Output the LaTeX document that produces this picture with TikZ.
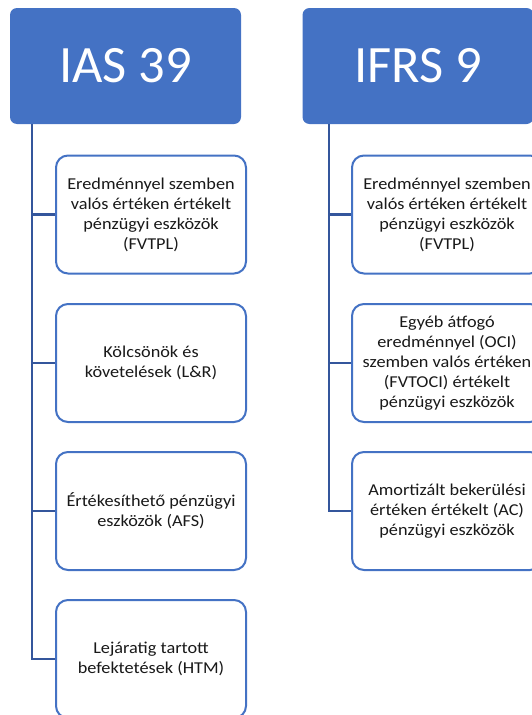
\documentclass[tikz,border=0pt]{standalone}
\usepackage{fontspec}
\setmainfont{Carlito}
\newfontfamily\bodyfont[FakeStretch=1.1]{Carlito}
\definecolor{accent}{RGB}{68,114,196}
\definecolor{linkblue}{RGB}{52,86,156}
\begin{document}
\begin{tikzpicture}[x=1pt,y=-1pt,
  header/.style={fill=accent, draw=none, rounded corners=7pt, minimum width=231pt,
    minimum height=116pt, inner sep=0pt, text=white, font=\fontsize{52.5}{60}\selectfont},
  item/.style={fill=white, draw=accent, line width=2pt, rounded corners=12pt,
    minimum width=190pt, minimum height=118pt, inner sep=0pt, align=center,
    text=black!90, font=\bodyfont\fontsize{16.6}{20}\selectfont},
  conn/.style={draw=linkblue, line width=2.6pt}]
\useasboundingbox (0,0) rectangle (532,715);
\clip (0,0) rectangle (532,715);

% spine positions
\coordinate (s1) at (32,0);
\coordinate (s2) at (329,0);

% headers
\node[header] (h1) at (125.5,66) {IAS 39};
\node[header] (h2) at (418,66) {IFRS 9};

% IAS 39 categories
\node[item] (a1) at (151,214.5) {Eredménnyel szemben\\valós értéken értékelt\\pénzügyi eszközök\\(FVTPL)};
\node[item] (a2) at (151,363) {Kölcsönök és\\követelések (L\&R)};
\node[item] (a3) at (151,511) {Értékesíthető pénzügyi\\eszközök (AFS)};
\node[item] (a4) at (151,659) {Lejáratig tartott\\befektetések (HTM)};

% IFRS 9 categories
\node[item] (b1) at (447,214.5) {Eredménnyel szemben\\valós értéken értékelt\\pénzügyi eszközök\\(FVTPL)};
\node[item] (b2) at (447,363) {Egyéb átfogó\\eredménnyel (OCI)\\szemben valós értéken\\(FVTOCI) értékelt\\pénzügyi eszközök};
\node[item] (b3) at (447,511) {Amortizált bekerülési\\értéken értékelt (AC)\\pénzügyi eszközök};

% connectors
\foreach \n in {a1,a2,a3,a4}
  \draw[conn] (h1.south -| s1) |- (\n.west);
\foreach \n in {b1,b2,b3}
  \draw[conn] (h2.south -| s2) |- (\n.west);
\end{tikzpicture}
\end{document}
